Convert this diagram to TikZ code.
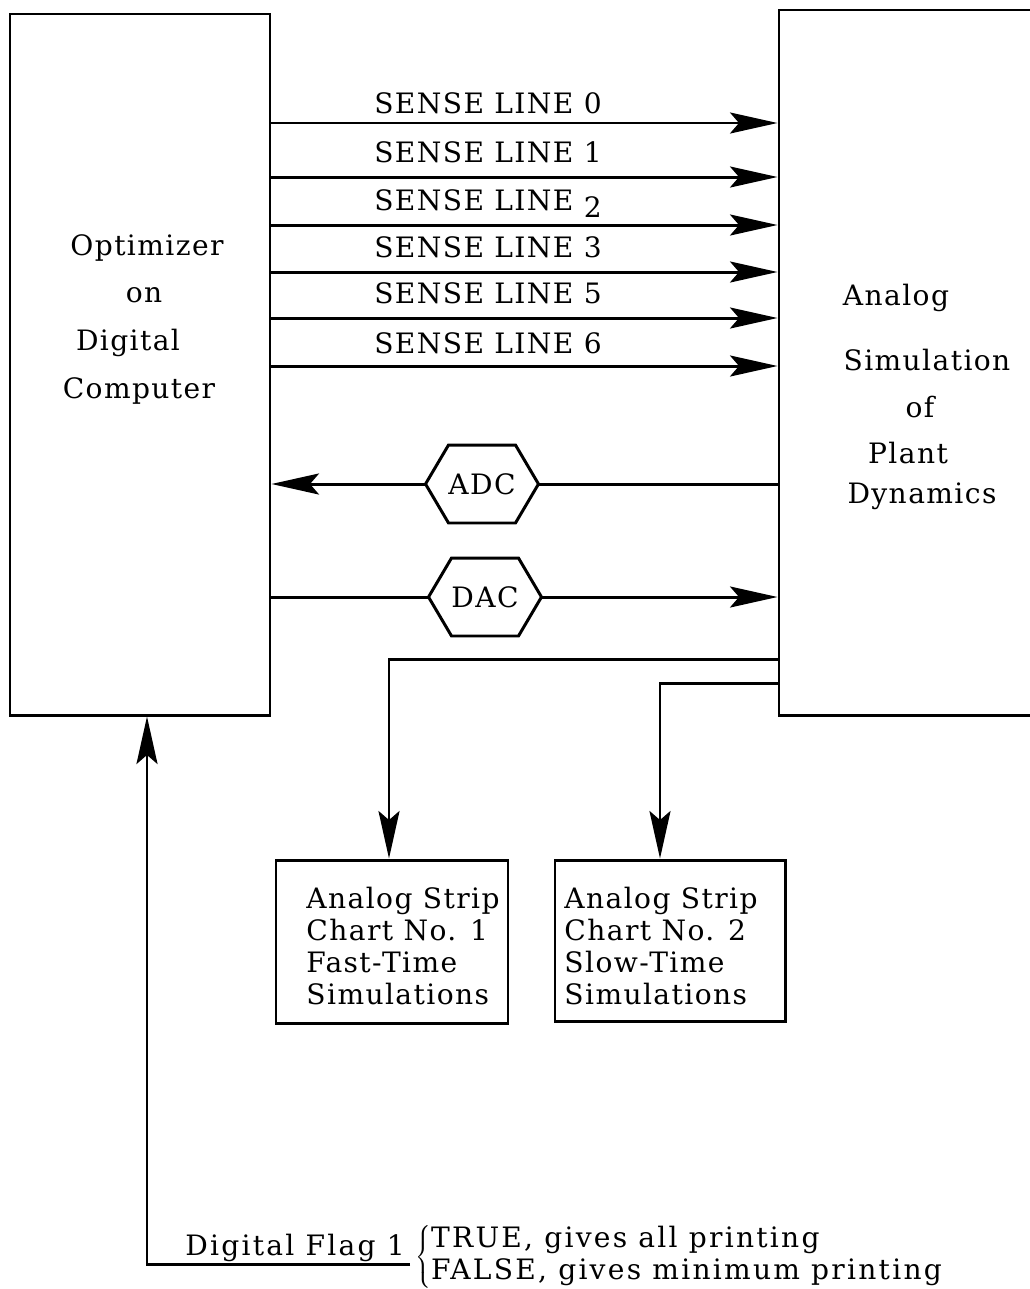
\documentclass[tikz,border=0pt]{standalone}
\usepackage{fontspec}
\setmainfont{DejaVu Serif}[LetterSpace=5]
\usetikzlibrary{arrows.meta,fit}

\begin{document}
\begin{tikzpicture}[x=0.02cm, y=-0.02cm, line width=1.7pt,
  font=\fontsize{16}{19}\selectfont,
  sig/.style={-{Stealth[length=0.95cm, width=0.42cm, inset=0.18cm]}},
  blk/.style={draw, inner sep=0pt},
  txt/.style={inner sep=0pt, anchor=base}]

\clip (0,0) rectangle (1030,1289);

\def\hx{0.46cm} % hexagon corner offset

% Optimizer (left)
\node[blk, fit={(10,14) (270,715)}] (opt) {};
\node[txt] (opt1) at (147,255) {Optimizer};
\node[txt] (opt2) at (144,302) {on};
\node[txt] (opt3) at (128,350) {Digital};
\node[txt] (opt4) at (139,398) {Computer};

% Analog simulation (right, open edge)
\node[blk, fit={(779,10) (1100,715)}] (sim) {};
\node[txt] (sim1) at (896,305) {Analog};
\node[txt] (sim2) at (927,370) {Simulation};
\node[txt] (sim3) at (920,417) {of};
\node[txt] (sim4) at (908,463) {Plant};
\node[txt] (sim5) at (922,503) {Dynamics};

% Strip charts
\node[blk, fit={(276,860) (508,1023)}] (chart1) {};
\node[blk, fit={(555,860) (785,1021)}] (chart2) {};
\node[inner sep=0pt, anchor=north west, align=left, font=\fontsize{16}{18.2}\selectfont]
  (chart1txt) at (305,886) {Analog Strip\\Chart No. 1\\Fast-Time\\Simulations};
\node[inner sep=0pt, anchor=north west, align=left, font=\fontsize{16}{18.2}\selectfont]
  (chart2txt) at (563,886) {Analog Strip\\Chart No. 2\\Slow-Time\\Simulations};

% Sense lines
\foreach \y/\b/\n in {123/113/0, 177/162/1, 225/210/\raisebox{-4pt}{2},
                      272/257/3, 318/303/5, 366/353/6}{
  \draw[sig] (opt.east |- 0,\y) -- (sim.west |- 0,\y);
  \node[txt] at (488,\b) {SENSE LINE \n};
}

% Converters
\node[inner sep=0pt, minimum width=2.2cm, minimum height=1.5cm] (adc) at (482,484) {ADC};
\node[inner sep=0pt, minimum width=2.2cm, minimum height=1.5cm] (dac) at (485,597) {DAC};
\foreach \h in {adc,dac}
  \draw (\h.west) -- ([xshift=\hx]\h.north west) -- ([xshift=-\hx]\h.north east)
    -- (\h.east) -- ([xshift=-\hx]\h.south east) -- ([xshift=\hx]\h.south west) -- cycle;

\draw (sim.west |- adc) -- (adc.east);
\draw[sig] (adc.west) -- (opt.east |- adc);
\draw (opt.east |- dac) -- (dac.west);
\draw[sig] (dac.east) -- (sim.west |- dac);

% Outputs to strip charts
\draw[sig] (sim.west |- 0,659) -| (389,0 |- chart1.north);
\draw[sig] (sim.west |- 0,683) -| (660,0 |- chart2.north);

% Digital flag
\coordinate (flagend) at (410,1264);
\draw[sig] (flagend) -| (147,0 |- opt.south);
\node[txt, font=\fontsize{16}{19}\selectfont\addfontfeatures{LetterSpace=8}] (flag) at (295,1255) {Digital Flag 1};
\node[inner sep=0pt, anchor=west, font=\fontsize{16}{18}\selectfont\addfontfeatures{LetterSpace=8}] (flagopt) at (414,1257)
  {$\left\{\begin{tabular}{@{}l@{}}TRUE, gives all printing\\FALSE, gives minimum printing\end{tabular}\right.$};

\end{tikzpicture}
\end{document}
